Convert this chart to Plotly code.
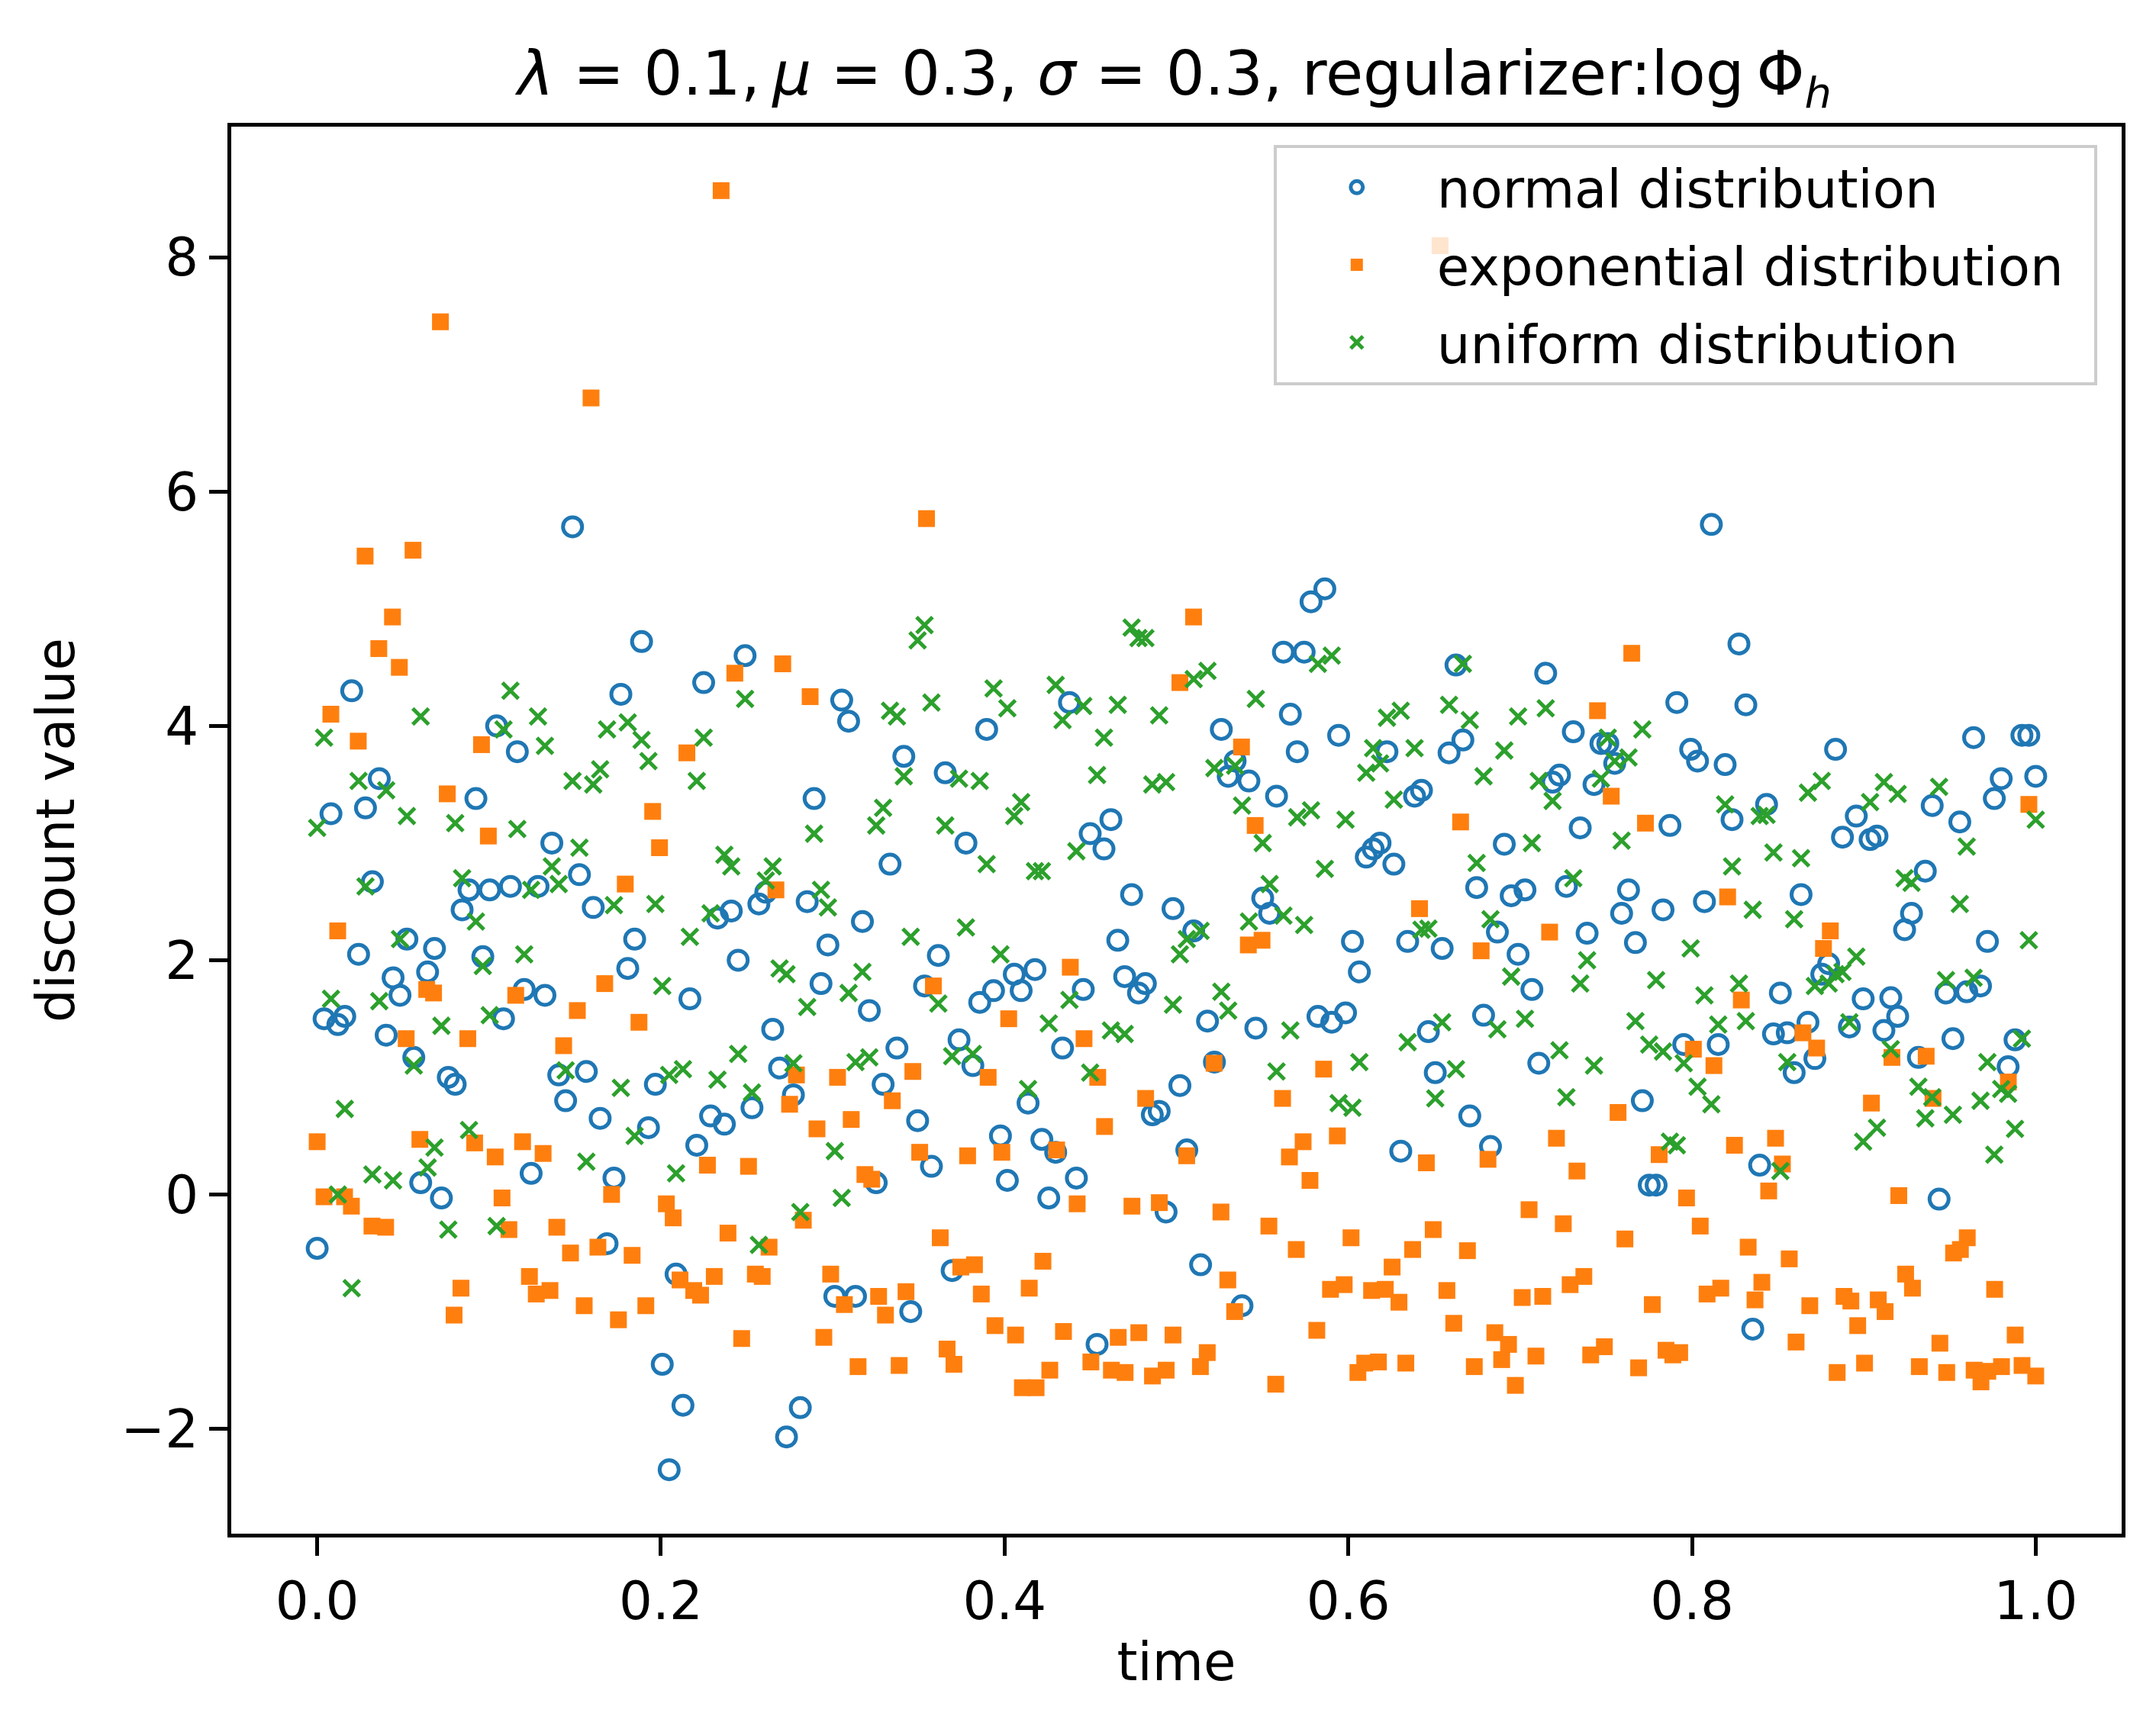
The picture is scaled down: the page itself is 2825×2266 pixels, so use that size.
import numpy as np
import plotly.graph_objects as go

normal_values = [
    -0.46, 1.5, 3.25, 1.45, 1.52, 4.3, 2.05, 3.3, 2.67, 3.55, 1.36, 1.85, 1.7, 2.18, 1.17, 0.1, 1.9, 2.1, -0.03, 1.0,
    0.94, 2.43, 2.6, 3.38, 2.03, 2.6, 4.0, 1.5, 2.63, 3.78, 1.75, 0.18, 2.63, 1.7, 3.0, 1.02, 0.8, 5.7, 2.73, 1.05,
    2.45, 0.65, -0.42, 0.14, 4.27, 1.93, 2.18, 4.72, 0.57, 0.94, -1.45, -2.35, -0.68, -1.8, 1.67, 0.42, 4.37, 0.67, 2.36, 0.6,
    2.42, 2.0, 4.6, 0.74, 2.48, 2.58, 1.41, 1.08, -2.07, 0.85, -1.82, 2.5, 3.38, 1.8, 2.13, -0.87, 4.22, 4.04, -0.87, 2.33,
    1.57, 0.1, 0.94, 2.82, 1.25, 3.74, -1.0, 0.63, 1.78, 0.24, 2.04, 3.6, -0.65, 1.32, 3.0, 1.1, 1.64, 3.97, 1.74, 0.5,
    0.12, 1.88, 1.74, 0.78, 1.92, 0.47, -0.03, 0.36, 1.25, 4.2, 0.14, 1.75, 3.08, -1.28, 2.95, 3.2, 2.17, 1.86, 2.56, 1.72,
    1.8, 0.68, 0.71, -0.15, 2.44, 0.93, 0.38, 2.25, -0.6, 1.48, 1.13, 3.97, 3.57, 3.7, -0.95, 3.53, 1.42, 2.53, 2.4, 3.4,
    4.63, 4.1, 3.78, 4.63, 5.06, 1.52, 5.17, 1.47, 3.92, 1.55, 2.16, 1.9, 2.88, 2.95, 3.0, 3.78, 2.82, 0.37, 2.16, 3.4,
    3.45, 1.39, 1.04, 2.1, 3.77, 4.52, 3.88, 0.67, 2.62, 1.53, 0.41, 2.24, 2.99, 2.55, 2.05, 2.6, 1.75, 1.12, 4.45, 3.52,
    3.58, 2.63, 3.95, 3.13, 2.23, 3.5, 3.85, 3.85, 3.68, 2.4, 2.6, 2.15, 0.8, 0.08, 0.08, 2.43, 3.15, 4.2, 1.28, 3.8,
    3.7, 2.5, 5.72, 1.28, 3.67, 3.2, 4.7, 4.18, -1.15, 0.25, 3.33, 1.37, 1.72, 1.38, 1.04, 2.56, 1.47, 1.16, 1.88, 1.97,
    3.8, 3.05, 1.43, 3.23, 1.67, 3.03, 3.06, 1.4, 1.68, 1.52, 2.26, 2.4, 1.17, 2.76, 3.32, -0.04, 1.72, 1.33, 3.18, 1.73,
    3.9, 1.78, 2.16, 3.38, 3.55, 1.09, 1.32, 3.92, 3.92, 3.57,
]

exponential_values = [
    0.45, -0.02, 4.1, 2.25, -0.02, -0.1, 3.87, 5.45, -0.27, 4.66, -0.28, 4.93, 4.5, 1.33, 5.5, 0.47, 1.75, 1.72, 7.45, 3.42,
    -1.03, -0.8, 1.33, 0.44, 3.84, 3.06, 0.32, -0.03, -0.3, 1.7, 0.45, -0.7, -0.85, 0.35, -0.82, -0.28, 1.27, -0.5, 1.57, -0.95,
    6.8, -0.45, 1.8, 0.0, -1.07, 2.65, -0.52, 1.47, -0.95, 3.27, 2.96, -0.08, -0.2, -0.73, 3.77, -0.82, -0.86, 0.25, -0.7, 8.57,
    -0.33, 4.45, -1.23, 0.24, -0.68, -0.7, -0.45, 2.6, 4.53, 0.77, 1.02, -0.22, 4.25, 0.56, -1.22, -0.68, 1.0, -0.94, 0.64, -1.47,
    0.17, 0.13, -0.87, -1.03, 0.8, -1.46, -0.83, 1.05, 0.36, 5.77, 1.78, -0.37, -1.32, -1.45, -0.62, 0.33, -0.6, -0.85, 1.0, -1.12,
    0.36, 1.5, -1.2, -1.65, -0.8, -1.65, -0.57, -1.5, 0.38, -1.17, 1.94, -0.08, 1.33, -1.43, 1.0, 0.58, -1.5, -1.22, -1.52, -0.1,
    -1.18, 0.82, -1.55, -0.07, -1.5, -1.2, 4.37, 0.33, 4.93, -1.47, -1.35, 1.12, -0.15, -0.73, -1.0, 3.82, 2.13, 3.15, 2.17, -0.27,
    -1.62, 0.82, 0.32, -0.47, 0.45, 0.12, -1.16, 1.07, -0.81, 0.5, -0.77, -0.37, -1.52, -1.44, -0.82, -1.43, -0.81, -0.62, -0.92, -1.44,
    -0.47, 2.44, 0.27, -0.3, 8.1, -0.82, -1.1, 3.18, -0.48, -1.47, 2.08, 0.3, -1.18, -1.41, -1.28, -1.63, -0.88, -0.13, -1.38, -0.87,
    2.24, 0.48, -0.25, -0.77, 0.2, -0.7, -1.37, 4.13, -1.3, 3.4, 0.7, -0.38, 4.62, -1.48, 3.17, -0.94, 0.34, -1.33, -1.37, -1.35,
    -0.03, 1.24, -0.27, -0.85, 1.1, -0.8, 2.54, 0.42, 1.66, -0.45, -0.9, -0.75, 0.03, 0.48, 0.26, -0.55, -1.26, 1.38, -0.95, 1.25,
    2.1, 2.25, -1.52, -0.87, -0.91, -1.12, -1.44, 0.78, -0.9, -1.0, 1.17, -0.01, -0.68, -0.8, -1.47, 1.18, 0.82, -1.27, -1.52, -0.5,
    -0.47, -0.37, -1.5, -1.6, -1.51, -0.81, -1.47, 0.96, -1.2, -1.46, 3.33, -1.55,
]

uniform_values = [
    3.13, 3.9, 1.67, 0.0, 0.73, -0.8, 3.53, 2.63, 0.17, 1.65, 3.45, 0.12, 2.18, 3.23, 1.1, 4.08, 0.23, 0.4, 1.44, -0.3,
    3.17, 2.7, 0.55, 2.33, 1.95, 1.53, -0.27, 3.97, 4.3, 3.12, 2.05, 2.6, 4.08, 3.83, 2.8, 2.65, 1.06, 3.53, 2.96, 0.28,
    3.5, 3.63, 3.97, 2.47, 0.91, 4.03, 0.5, 3.88, 3.7, 2.48, 1.78, 1.02, 0.18, 1.07, 2.2, 3.53, 3.9, 2.4, 0.98, 2.9,
    2.8, 1.2, 4.23, 0.87, -0.43, 2.68, 2.8, 1.93, 1.88, 1.12, -0.15, 1.6, 3.08, 2.6, 2.45, 0.37, -0.03, 1.72, 1.13, 1.9,
    1.17, 3.15, 3.3, 4.13, 4.08, 3.57, 2.2, 4.73, 4.86, 4.2, 1.63, 3.15, 1.18, 3.55, 2.28, 1.2, 3.53, 2.82, 4.32, 2.05,
    4.15, 3.23, 3.35, 0.9, 2.76, 2.76, 1.46, 4.35, 4.05, 1.66, 2.93, 4.17, 1.04, 3.58, 3.9, 1.4, 4.18, 1.37, 4.84, 4.75,
    4.75, 3.5, 4.09, 3.52, 1.62, 2.05, 2.18, 4.4, 2.25, 4.47, 3.64, 1.73, 1.57, 3.66, 3.32, 2.33, 4.23, 3.0, 2.65, 1.05,
    2.38, 1.4, 3.22, 2.3, 3.28, 4.53, 2.78, 4.6, 0.78, 3.2, 0.74, 1.13, 3.6, 3.81, 3.68, 4.07, 3.37, 4.13, 1.3, 3.81,
    2.26, 2.27, 0.82, 1.47, 4.18, 1.07, 4.53, 4.05, 2.83, 3.57, 2.35, 1.41, 3.79, 1.86, 4.08, 1.5, 3.0, 3.53, 4.15, 3.36,
    1.23, 0.83, 2.7, 1.8, 2.0, 1.1, 3.55, 3.9, 3.7, 3.02, 3.73, 1.48, 3.97, 1.28, 1.83, 1.22, 0.45, 0.42, 1.12, 2.1,
    0.92, 1.7, 0.77, 1.45, 3.33, 2.8, 1.8, 1.48, 2.43, 3.23, 3.24, 2.92, 0.2, 1.13, 2.35, 2.87, 3.43, 1.78, 3.53, 1.8,
    1.88, 1.9, 1.47, 2.03, 0.45, 3.35, 0.57, 3.52, 1.24, 3.42, 2.7, 2.66, 0.92, 0.65, 0.83, 3.48, 1.83, 0.68, 2.48, 2.97,
    1.85, 0.8, 1.13, 0.34, 0.9, 0.86, 0.56, 1.33, 2.17, 3.2,
]

x_tick_vals = [0.0, 0.2, 0.4, 0.6, 0.8, 1.0]
x_tick_text = ["0.0", "0.2", "0.4", "0.6", "0.8", "1.0"]
y_tick_vals = [-2, 0, 2, 4, 6, 8]
y_tick_text = ["\u22122", "0", "2", "4", "6", "8"]

series_names = ["normal distribution", "exponential distribution", "uniform distribution"]
series_data = [normal_values, exponential_values, uniform_values]
series_colors = ["#1f77b4", "#ff7f0e", "#2ca02c"]

FONT = "DejaVu Sans"

fig = go.Figure()

for i, (name, vals, col) in enumerate(zip(series_names, series_data, series_colors)):
    t = np.linspace(0.0, 1.0, len(vals))
    if i == 0:
        marker = dict(symbol="circle-open", size=25, color=col, line=dict(width=5, color=col))
    elif i == 1:
        marker = dict(symbol="square", size=22, color=col, line=dict(width=0))
    else:
        marker = dict(symbol="x-thin-open", size=21, color=col, line=dict(width=5, color=col))
    fig.add_trace(go.Scatter(x=t, y=vals, mode="markers", name=name + "\u2002", marker=marker,
                             legendgroup=name))

axis_common = dict(
    showline=True, linecolor="black", linewidth=5, mirror=True,
    ticks="outside", ticklen=24, tickwidth=5, tickcolor="black",
    showgrid=False, zeroline=False,
    tickfont=dict(family=FONT, size=69, color="black"),
)

fig.update_layout(
    width=2825, height=2266,
    margin=dict(l=295, r=53, t=158, b=264),
    paper_bgcolor="white", plot_bgcolor="white",
    font=dict(family=FONT, size=69, color="black"),
    title=dict(
        text="<i>λ</i> = 0.1,\u2009<i>μ</i> = 0.3, <i>σ</i> = 0.3, regularizer:log\u2009Φ<sub><i>h</i></sub>",
        x=0.542, xanchor="center", y=1 - 88 / 2266, yanchor="middle",
        font=dict(family=FONT, size=80, color="black"),
    ),
    xaxis=dict(range=[-0.05, 1.05], tickvals=x_tick_vals, ticktext=x_tick_text,
               title=dict(text="time", font=dict(family=FONT, size=69), standoff=18), **axis_common),
    yaxis=dict(range=[-2.896, 9.116], tickvals=y_tick_vals, ticktext=y_tick_text,
               title=dict(text="discount value", font=dict(family=FONT, size=69), standoff=40), **axis_common),
    legend=dict(
        x=0.987, xanchor="right", y=0.987, yanchor="top",
        bgcolor="rgba(255,255,255,0.8)", bordercolor="#cccccc", borderwidth=4,
        font=dict(family=FONT, size=69, color="black"),
        itemwidth=200, traceorder="grouped", tracegroupgap=9,
    ),
)

fig.write_html("out.html")
